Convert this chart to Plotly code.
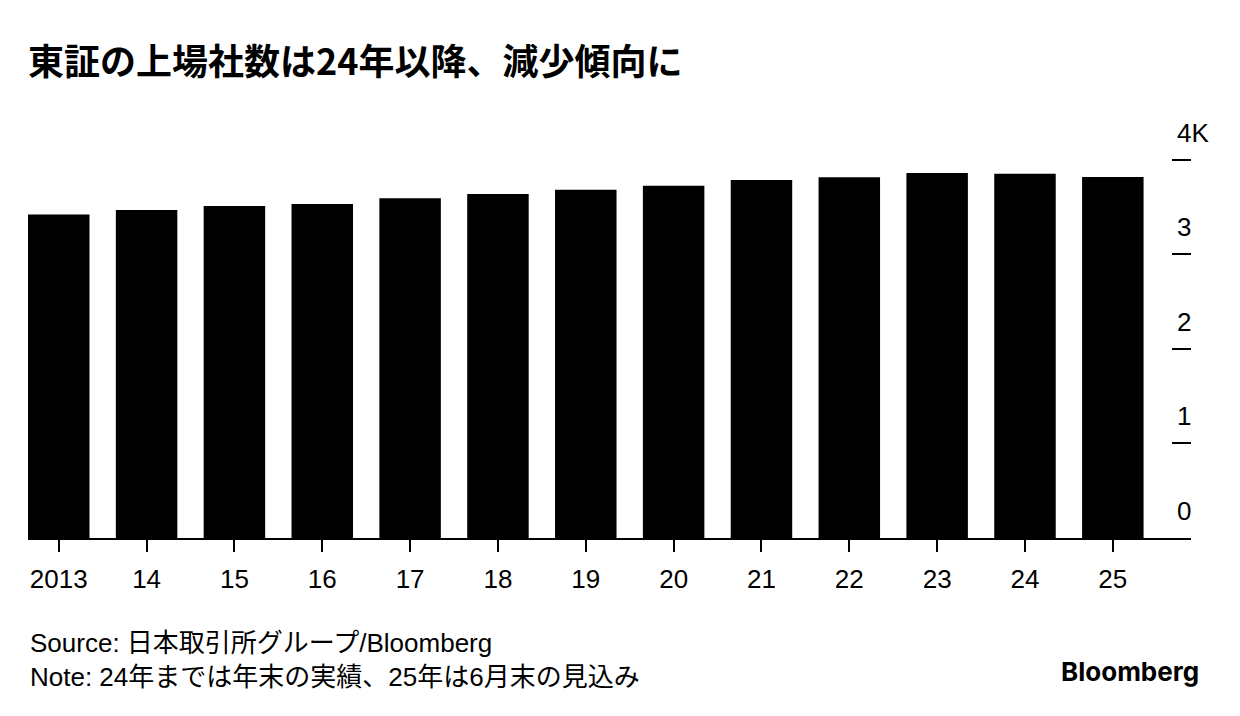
import plotly.graph_objects as go

years = [2013, 2014, 2015, 2016, 2017, 2018, 2019, 2020, 2021, 2022, 2023, 2024, 2025]
year_labels = ["2013", "14", "15", "16", "17", "18", "19", "20", "21", "22", "23", "24", "25"]
listed_companies = [3421, 3468, 3510, 3531, 3591, 3637, 3683, 3725, 3785, 3813, 3859, 3852, 3817]
y_ticks = [0, 1000, 2000, 3000, 4000]
y_tick_labels = ["0", "1", "2", "3", "4K"]

title_text = "東証の上場社数は24年以降、減少傾向に"
source_text = "Source: 日本取引所グループ/Bloomberg"
note_text = "Note: 24年までは年末の実績、25年は6月末の見込み"

FONT = "Liberation Sans, Arial, Noto Sans CJK JP, sans-serif"

OFF = 8  # page body margin
W, H = 1240 - OFF, 716 - OFF
ML, MR, MT, MB = 28 - OFF, 49, 120 - OFF, 178
plot_h = H - MT - MB
plot_w = W - ML - MR

def py(pix):
    # pix in screenshot coordinates
    return (H - MB - (pix - OFF)) / plot_h

def px(pix):
    return (pix - OFF - ML) / plot_w

fig = go.Figure()
fig.add_trace(go.Bar(
    x=years, y=listed_companies, width=0.7,
    marker=dict(color="#000000", line=dict(width=0)),
    hoverinfo="x+y", showlegend=False,
))

annotations = []
for v, t in zip(y_ticks, y_tick_labels):
    annotations.append(dict(
        x=px(1175), xref="paper", xanchor="left",
        y=v, yref="y", yanchor="middle", yshift=27,
        text=t, showarrow=False,
        font=dict(family=FONT, size=26, color="#000000"),
    ))

annotations.append(dict(
    x=0, xref="paper", xanchor="left",
    y=py(660), yref="paper", yanchor="middle",
    text=source_text + "<br>" + note_text, align="left", showarrow=False,
    font=dict(family=FONT, size=26, color="#000000"),
))
annotations.append(dict(
    x=px(1201), xref="paper", xanchor="right",
    y=py(671), yref="paper", yanchor="middle",
    text="<b>Bloomberg</b>", showarrow=False,
    font=dict(family="Inter, Liberation Sans, sans-serif", size=26, color="#000000"),
))

fig.update_layout(
    width=W, height=H,
    margin=dict(l=ML, r=MR, t=MT, b=MB, pad=0),
    paper_bgcolor="#ffffff", plot_bgcolor="#ffffff",
    title=dict(
        text="<b>" + title_text + "</b>",
        x=ML / W, xanchor="left", xref="container",
        y=1 - (62 - OFF) / H, yanchor="middle", yref="container",
        font=dict(family="Noto Sans CJK JP, Liberation Sans, sans-serif", size=36, color="#000000"),
    ),
    bargap=0.3,
    xaxis=dict(
        range=[2012.65, 2025.89],
        tickmode="array", tickvals=years, ticktext=year_labels,
        ticks="outside", ticklen=12, tickwidth=1.5, tickcolor="#000000",
        ticklabelstandoff=5,
        showline=True, linecolor="#000000", linewidth=1.5,
        showgrid=False, zeroline=False,
        tickfont=dict(family=FONT, size=26, color="#000000"),
        fixedrange=True,
    ),
    yaxis=dict(
        range=[0, plot_h / 94.58 * 1000],
        side="right",
        tickmode="array", tickvals=y_ticks[1:],
        ticks="inside", ticklen=19, tickwidth=2, tickcolor="#000000",
        showticklabels=False,
        showgrid=False, zeroline=False, showline=False,
        fixedrange=True,
    ),
    annotations=annotations,
)

fig.write_html("out.html")
